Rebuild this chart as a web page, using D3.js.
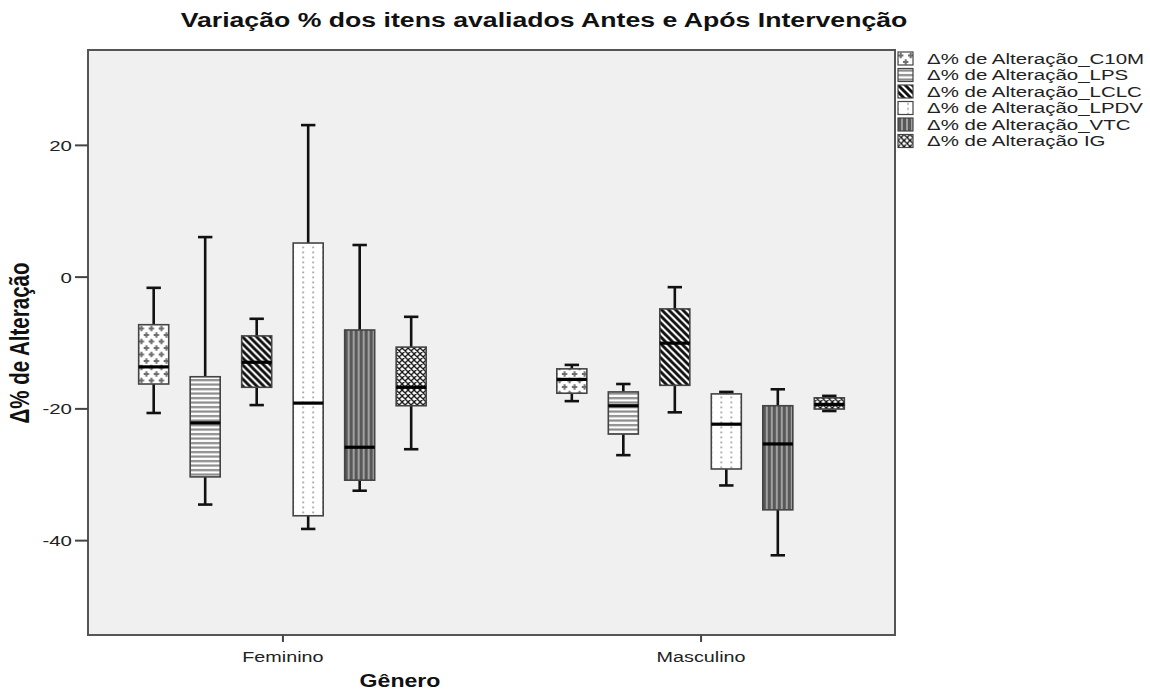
<!DOCTYPE html>
<html><head><meta charset="utf-8">
<script src="https://cdn.jsdelivr.net/npm/d3@7"></script>
<style>body{margin:0;background:#fff}</style>
</head><body><svg id="c" width="1150" height="693"></svg>
<script>
const groups = ["Feminino", "Masculino"];
const seriesKeys = ["C10M", "LPS", "LCLC", "LPDV", "VTC", "IG"];
const seriesLabels = ["Δ% de Alteração_C10M", "Δ% de Alteração_LPS", "Δ% de Alteração_LCLC",
  "Δ% de Alteração_LPDV", "Δ% de Alteração_VTC", "Δ% de Alteração IG"];
// each: [whisker low, Q1, median, Q3, whisker high]
const femininoStats = [
  [-20.7, -16.3, -13.7, -7.3, -1.7],
  [-34.6, -30.4, -22.2, -15.2, 6.0],
  [-19.5, -16.8, -13.0, -9.0, -6.4],
  [-38.3, -36.3, -19.2, 5.1, 23.0],
  [-32.5, -30.9, -25.9, -8.1, 4.8],
  [-26.2, -19.6, -16.8, -10.7, -6.1]
];
const masculinoStats = [
  [-18.9, -17.7, -15.6, -14.0, -13.4],
  [-27.1, -23.9, -19.6, -17.5, -16.3],
  [-20.6, -16.5, -10.1, -4.9, -1.6],
  [-31.7, -29.2, -22.4, -17.8, -17.5],
  [-42.3, -35.4, -25.4, -19.6, -17.1],
  [-20.4, -20.1, -19.4, -18.4, -18.1]
];
const yTicks = [-40, -20, 0, 20];
const yDomain = [-54.4, 34.4];
const titleText = "Variação % dos itens avaliados Antes e Após Intervenção";
const xTitle = "Gênero";
const yTitle = "Δ% de Alteração";

const SX = 1.32; // horizontal stretch of the original picture
const FONT = "'Liberation Sans', Arial, sans-serif";
const svg = d3.select("#c");
const L = 88, R = 895, T = 50, B = 635;

const x = d3.scalePoint().domain(groups).range([L, R]).padding(0.465);
const inner = d3.scaleBand().domain(seriesKeys).range([-143.75, 143.75]).paddingInner(0.417).paddingOuter(0);
const y = d3.scaleLinear().domain(yDomain).range([B, T]);

// patterns
const defs = svg.append("defs");
function pat(id, w, h, build, px) {
  const p = defs.append("pattern").attr("id", id).attr("patternUnits", "userSpaceOnUse")
    .attr("width", w).attr("height", h).attr("x", px || 0).attr("y", 0);
  build(p);
}
pat("p-C10M", 10, 13, p => {
  p.append("rect").attr("width", 10).attr("height", 13).attr("fill", "#fff");
  p.append("path").attr("d", "M0,3.5h5.4M2.7,0.8v5.4M5,10h5.4M7.7,7.3v5.4M-0.4,10h0.8")
    .attr("stroke", "#6e6e6e").attr("stroke-width", 2);
});
pat("p-LPS", 4, 4.5, p => {
  p.append("rect").attr("width", 4).attr("height", 4.5).attr("fill", "#fff");
  p.append("rect").attr("y", 1).attr("width", 4).attr("height", 2.2).attr("fill", "#8a8a8a");
});
pat("p-LCLC", 7, 7, p => {
  p.append("rect").attr("width", 7).attr("height", 7).attr("fill", "#fff");
  p.append("path").attr("d", "M-1,-1L8,8M-1,6L1,8M6,-1L8,1").attr("stroke", "#111").attr("stroke-width", 2.9);
});
pat("p-LPDV", 10, 5, p => {
  p.append("rect").attr("width", 10).attr("height", 5).attr("fill", "#fff");
  p.append("rect").attr("x", 4.2).attr("y", 1.5).attr("width", 1.6).attr("height", 1.8).attr("fill", "#999");
}, 5);
pat("p-VTC", 5, 5, p => {
  p.append("rect").attr("width", 5).attr("height", 5).attr("fill", "#585858");
  p.append("rect").attr("x", 3).attr("width", 2).attr("height", 5).attr("fill", "#a0a0a0");
});
pat("p-IG", 6, 6, p => {
  p.append("rect").attr("width", 6).attr("height", 6).attr("fill", "#fff");
  p.append("path").attr("d", "M0,0L6,6M6,0L0,6M-1,5L1,7M5,-1L7,1M-1,1L1,-1M5,7L7,5").attr("stroke", "#111").attr("stroke-width", 1.3);
});

// plot background
svg.append("rect").attr("x", L).attr("y", T).attr("width", R - L).attr("height", B - T)
  .attr("fill", "#f0f0f0").attr("stroke", "#555").attr("stroke-width", 2);

function stretchedText(px, py, s, size, weight, anchor, rot) {
  return svg.append("text")
    .attr("transform", `translate(${px},${py}) scale(${SX},1)` + (rot ? " rotate(-90)" : ""))
    .attr("font-family", FONT).attr("font-size", size).attr("font-weight", weight || "normal")
    .attr("text-anchor", anchor || "middle").attr("fill", "#111").text(s);
}

// axes
const yAxis = svg.append("g").attr("transform", `translate(${L},0)`)
  .call(d3.axisLeft(y).tickValues(yTicks).tickSize(13).tickFormat(d3.format("d")));
yAxis.select(".domain").remove();
yAxis.selectAll(".tick line").attr("stroke", "#444").attr("stroke-width", 2);
yAxis.selectAll(".tick text").attr("x", null).attr("dy", "0.36em")
  .attr("transform", `translate(-16,0) scale(${SX},1)`)
  .attr("font-family", FONT).attr("font-size", 15.5).attr("fill", "#222").text(d => String(d).replace("-", "-"));

const xAxis = svg.append("g").attr("transform", `translate(0,${B})`)
  .call(d3.axisBottom(x).tickSize(7));
xAxis.select(".domain").remove();
xAxis.selectAll(".tick line").attr("stroke", "#444").attr("stroke-width", 2);
xAxis.selectAll(".tick text").attr("y", null).attr("dy", null)
  .attr("transform", `translate(0,27) scale(${SX},1)`)
  .attr("font-family", FONT).attr("font-size", 15).attr("fill", "#222");

// boxes
const allStats = { Feminino: femininoStats, Masculino: masculinoStats };
const bw = inner.bandwidth();
groups.forEach(g => {
  allStats[g].forEach((st, i) => {
    const key = seriesKeys[i];
    const x0 = x(g) + inner(key);
    const gg = svg.append("g").attr("transform", `translate(${x0},0)`);
    const cx = bw / 2, cap = bw * 0.48;
    const [lo, q1, med, q3, hi] = st;
    gg.append("line").attr("x1", cx).attr("x2", cx).attr("y1", y(hi)).attr("y2", y(q3)).attr("stroke", "#111").attr("stroke-width", 2.6);
    gg.append("line").attr("x1", cx).attr("x2", cx).attr("y1", y(q1)).attr("y2", y(lo)).attr("stroke", "#111").attr("stroke-width", 2.6);
    gg.append("line").attr("x1", cx - cap / 2).attr("x2", cx + cap / 2).attr("y1", y(hi)).attr("y2", y(hi)).attr("stroke", "#111").attr("stroke-width", 2.6);
    gg.append("line").attr("x1", cx - cap / 2).attr("x2", cx + cap / 2).attr("y1", y(lo)).attr("y2", y(lo)).attr("stroke", "#111").attr("stroke-width", 2.6);
    gg.append("rect").attr("x", 0).attr("y", y(q3)).attr("width", bw).attr("height", y(q1) - y(q3))
      .attr("fill", `url(#p-${key})`).attr("stroke", "#444").attr("stroke-width", 1.6);
    gg.append("line").attr("x1", 0).attr("x2", bw).attr("y1", y(med)).attr("y2", y(med)).attr("stroke", "#000").attr("stroke-width", 3.2);
  });
});

// legend
seriesKeys.forEach((key, i) => {
  const ly = 52 + i * 16.5;
  const lg = svg.append("g").attr("transform", `translate(898,${ly})`);
  lg.append("rect").attr("width", 15).attr("height", 13).attr("fill", `url(#p-${key})`).attr("stroke", "#444").attr("stroke-width", 1.2);
  svg.append("text").attr("transform", `translate(927,${ly + 11.5}) scale(${SX},1)`)
    .attr("font-family", FONT).attr("font-size", 15.5).attr("fill", "#222").text(seriesLabels[i]);
});

// titles
stretchedText(544, 27, titleText, 20.2, "bold", "middle");
stretchedText(400, 687, xTitle, 17.5, "bold", "middle");
stretchedText(29, 343, yTitle, 20.5, "bold", "middle", true);
</script>
</body></html>
